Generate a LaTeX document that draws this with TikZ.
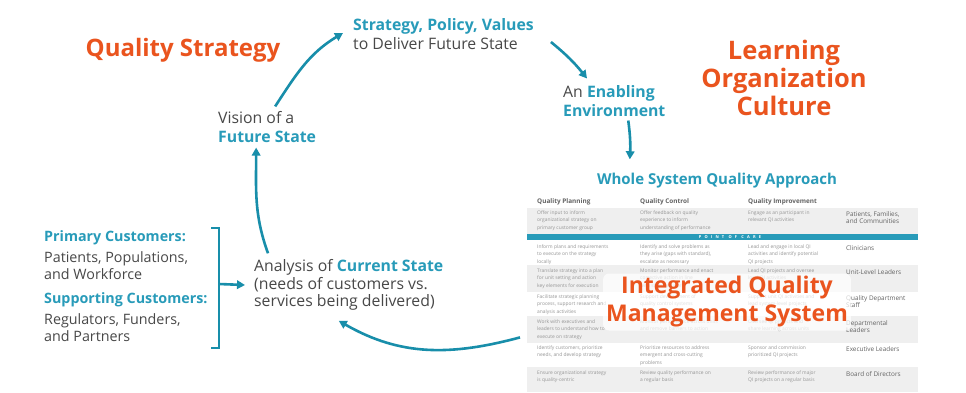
\documentclass[tikz,border=0pt]{standalone}
\usepackage{fontspec}
\setmainfont{Open Sans}
\usetikzlibrary{arrows.meta}
\definecolor{qorange}{RGB}{234,84,30}
\definecolor{qteal}{RGB}{40,155,185}
\definecolor{arrteal}{RGB}{24,142,170}
\definecolor{txtgray}{RGB}{72,72,72}
\definecolor{cellgray}{RGB}{150,150,150}
\definecolor{bandgray}{RGB}{239,239,239}
\newcommand\tealtext[1]{\textcolor{qteal}{\bfseries #1}}

\begin{document}
\begin{tikzpicture}[x=1pt,y=-1pt,
  cyc/.style={line width=2.6pt,draw=arrteal,-{Triangle[length=8pt,width=8.5pt]}},
  lbl/.style={inner sep=0pt,anchor=west,align=left,text=txtgray,font=\fontsize{15.8}{18.5}\selectfont},
  cust/.style={lbl,font=\fontsize{14.3}{16.5}\selectfont},
  head/.style={inner sep=0pt,align=center,text=qorange,font=\fontsize{24}{27.8}\selectfont\bfseries},
  cell/.style={inner sep=0pt,anchor=north west,align=left,text=cellgray,font=\fontsize{4.9}{7.4}\selectfont},
  rowlab/.style={inner sep=0pt,anchor=north west,align=left,text=txtgray!85,font=\fontsize{6.4}{7.6}\selectfont},
  colhead/.style={inner sep=0pt,anchor=west,text=txtgray!85,font=\fontsize{6.4}{8}\selectfont\bfseries}]
\useasboundingbox (0,0) rectangle (966,392);
\fill[white] (0,0) rectangle (966,392);

\node[head] (qstrat) at (183,50) {Quality Strategy};
\node[head,font=\fontsize{25.5}{27.8}\selectfont\bfseries] (culture) at (784,78) {Learning\\Organization\\Culture};

\node[lbl] (policy) at (353,34) {\tealtext{Strategy, Policy, Values}\\to Deliver Future State};
\node[lbl] (vision) at (218,127) {Vision of a\\\tealtext{Future State}};
\node[lbl] (enabling) at (563,101) {An \tealtext{Enabling}\\\tealtext{Environment}};
\node[lbl,font=\fontsize{15.8}{17.6}\selectfont] (analysis) at (254,285) {Analysis of \tealtext{Current State}\\(needs of customers vs.\\services being delivered)};
\node[cust] (primary) at (44,255) {\tealtext{Primary Customers:}\\[5pt]Patients, Populations,\\and Workforce};
\node[cust] (supporting) at (44,317) {\tealtext{Supporting Customers:}\\[5pt]Regulators, Funders,\\and Partners};

\node[inner sep=0pt,text=qteal,font=\fontsize{15}{17}\selectfont\bfseries] (wsqa) at (717,181) {Whole System Quality Approach};

\node[inner sep=0pt,minimum width=392pt,minimum height=196pt,anchor=north west] (tab) at (526,196) {};
\foreach \ya/\yb in {208/234,265/292,316/343,367/392}
  \fill[bandgray] (527,\ya) rectangle (918,\yb);
\fill[qteal] (527,234) rectangle (918,240);
\node[inner sep=0pt,text=white,font=\fontsize{4}{4}\selectfont\bfseries\addfontfeature{LetterSpace=80}] (poc) at (730,237) {POINT OF CARE};
\node[colhead] (hplan) at (537,202) {Quality Planning};
\node[colhead] (hctrl) at (640,202) {Quality Control};
\node[colhead] (himpr) at (748,202) {Quality Improvement};

\foreach \y/\a/\b/\c/\r [count=\i] in {
  210.5/{Offer input to inform\\organizational strategy on\\primary customer group}/{Offer feedback on quality\\experience to inform\\understanding of performance}/{Engage as an participant in\\relevant QI activities}/{Patients, Families,\\and Communities},
  244.5/{Inform plans and requirements\\to execute on the strategy\\locally}/{Identify and solve problems as\\they arise (gaps with standard),\\escalate as necessary}/{Lead and engage in local QI\\activities and identify potential\\QI projects}/{Clinicians},
  268.5/{Translate strategy into a plan\\for unit setting and action\\key elements for execution}/{Monitor performance and enact\\corrective action in line\\with standard work}/{Lead QI projects and oversee\\local QI activities}/{Unit-Level Leaders},
  294.5/{Facilitate strategic planning\\process, support research and\\analysis activities}/{Support development of\\quality control systems}/{Support unit QI activities and\\lead system-level projects}/{Quality Department\\Staff},
  319.5/{Work with executives and\\leaders to understand how to\\execute on strategy}/{Monitor performance across units\\and remove barriers to action}/{Oversee QI projects and\\share learning across units}/{Departmental\\Leaders},
  345.5/{Identify customers, prioritize\\needs, and develop strategy}/{Prioritize resources to address\\emergent and cross-cutting\\problems}/{Sponsor and commission\\prioritized QI projects}/{Executive Leaders},
  370.5/{Ensure organizational strategy\\is quality-centric}/{Review quality performance on\\a regular basis}/{Review performance of major\\QI projects on a regular basis}/{Board of Directors}}
{
  \node[cell] (plan\i) at (537,\y) {\a};
  \node[cell] (ctrl\i) at (640,\y) {\b};
  \node[cell] (impr\i) at (748,\y) {\c};
  \node[rowlab] (role\i) at (846,\y+0.5) {\r};
}

\node[head,font=\fontsize{23}{28}\selectfont\bfseries,fill=white,fill opacity=0.7,text opacity=1,inner sep=3pt,rounded corners=6pt] (iqms) at (727,302) {Integrated Quality\\Management System};

\draw[line width=2.4pt,draw=arrteal] (211,228) -| (219,348) -- (211,348);
\coordinate (bracket) at (219,284);
\draw[cyc] (bracket) -- ([xshift=-9pt]analysis.west);

\draw[cyc] ([xshift=8pt,yshift=5pt]vision.north) to[out=57,in=211] ([xshift=-10pt,yshift=1pt]policy.west);
\draw[cyc] ([xshift=17pt,yshift=-8pt]policy.east) to[bend left=6] ([xshift=24pt,yshift=7pt]enabling.north west);
\draw[cyc] ([xshift=14pt,yshift=-4pt]enabling.south) to[bend left=5] ([xshift=33pt,yshift=14pt]wsqa.north west);
\draw[cyc] ([xshift=-6pt,yshift=55pt]tab.south west) to[out=195,in=-30] ([xshift=-10pt,yshift=-10pt]analysis.south);
\draw[cyc] ([xshift=14pt,yshift=6pt]analysis.north west) to[out=110,in=270] ([xshift=-11pt,yshift=-5pt]vision.south);
\end{tikzpicture}
\end{document}
